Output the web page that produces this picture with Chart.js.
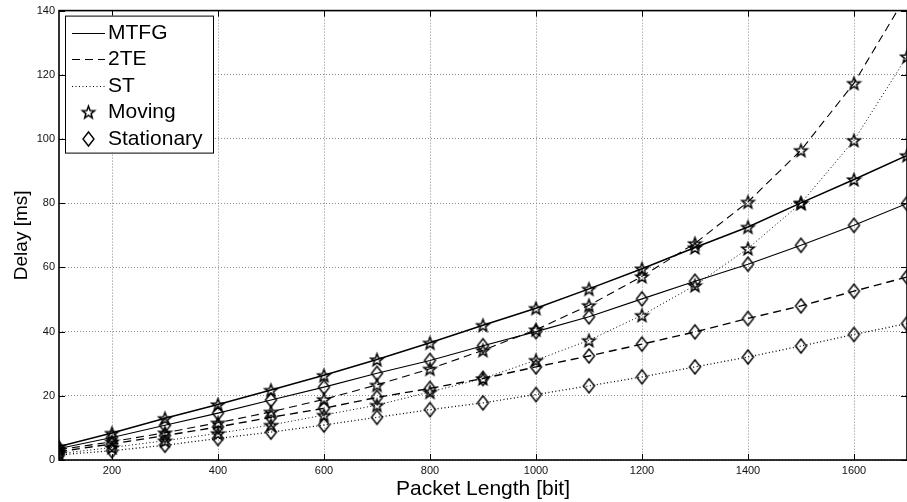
<!DOCTYPE html>
<html>
<head>
<meta charset="utf-8">
<script src="https://cdn.jsdelivr.net/npm/chart.js@4.4.0/dist/chart.umd.min.js"></script>
<style>
html, body { margin: 0; padding: 0; background: #fff; }
</style>
</head>
<body>
<canvas id="graficaRetardo" width="907" height="502"></canvas>
<script>
// longitud de paquete [bit]
const longitudes = [100, 200, 300, 400, 500, 600, 700, 800, 900, 1000, 1100, 1200, 1300, 1400, 1500, 1600, 1700];

// retardo [ms] por esquema
const mtfgMovil = [4.2, 8.4, 13.0, 17.3, 21.8, 26.4, 31.3, 36.5, 42.0, 47.3, 53.3, 59.6, 66.2, 72.6, 80.1, 87.4, 94.9];
const mtfgFijo = [3.6, 7.0, 10.8, 14.6, 18.7, 22.7, 27.0, 31.0, 35.6, 40.0, 44.6, 50.2, 55.7, 61.0, 66.9, 73.1, 79.9];
const dosTeMovil = [3.2, 5.7, 8.5, 11.6, 15.0, 18.9, 23.4, 28.4, 34.2, 40.6, 48.2, 57.2, 67.5, 80.4, 96.5, 117.4, 145.0];
const dosTeFijo = [2.6, 5.0, 7.6, 10.3, 13.3, 16.1, 19.5, 22.3, 25.4, 29.0, 32.4, 36.1, 39.9, 44.1, 48.0, 52.6, 57.0];
const stMovil = [2.0, 3.9, 6.0, 8.3, 10.9, 14.0, 17.1, 21.2, 25.4, 31.1, 37.3, 45.1, 54.4, 65.9, 80.0, 99.6, 125.7];
const stFijo = [1.6, 2.9, 4.6, 6.7, 8.7, 10.9, 13.3, 15.7, 17.8, 20.4, 23.1, 25.9, 29.0, 32.1, 35.5, 39.1, 42.5];

const ticksX = [200, 400, 600, 800, 1000, 1200, 1400, 1600];
const ticksY = [0, 20, 40, 60, 80, 100, 120, 140];

const nombresLineas = ["MTFG", "2TE", "ST"];
const nombresMarcas = ["Moving", "Stationary"];

const LISO = [];
const GUIONES = [8, 5];
const PUNTOS = [1, 2.5];

// marcadores sin relleno
function estrella(r) {
const s = Math.ceil(r * 2) + 4;
const c = document.createElement("canvas");
c.width = s; c.height = s;
const g = c.getContext("2d");
g.translate(s / 2, s / 2 + 0.7);
g.beginPath();
for (let i = 0; i < 10; i++) {
const rad = i % 2 ? r * 0.42 : r;
const a = -Math.PI / 2 + i * Math.PI / 5;
g.lineTo(rad * Math.cos(a), rad * Math.sin(a));
}
g.closePath();
g.lineWidth = 1.5;
g.lineJoin = "miter";
g.strokeStyle = "#000";
g.stroke();
return c;
}

function rombo(w, h) {
const c = document.createElement("canvas");
c.width = w + 4; c.height = h + 4;
const g = c.getContext("2d");
const cx = c.width / 2, cy = c.height / 2;
g.beginPath();
g.moveTo(cx, cy - h / 2);
g.lineTo(cx + w / 2, cy);
g.lineTo(cx, cy + h / 2);
g.lineTo(cx - w / 2, cy);
g.closePath();
g.lineWidth = 1.4;
g.strokeStyle = "#000";
g.stroke();
return c;
}

const marcaEstrella = estrella(6.5);
const marcaRombo = rombo(11, 14);

function serie(etiqueta, datos, trazo, marca, grosor) {
return {
label: etiqueta,
data: longitudes.map((x, i) => ({ x: x, y: datos[i] })),
borderColor: "#000",
backgroundColor: "transparent",
borderWidth: grosor,
borderDash: trazo,
pointStyle: marca,
pointRadius: 6,
pointHoverRadius: 6,
tension: 0,
fill: false
};
}

// marco, marcas de eje hacia dentro y leyenda
const ejesMatlab = {
id: "ejesMatlab",
afterDatasetsDraw(chart) {
const { ctx, chartArea: a, scales: { x, y } } = chart;
ctx.save();
ctx.strokeStyle = "#000";
ctx.lineWidth = 1;
ctx.setLineDash([]);
ctx.beginPath();
x.ticks.forEach(t => {
const px = Math.round(x.getPixelForValue(t.value)) + 0.5;
ctx.moveTo(px, a.bottom); ctx.lineTo(px, a.bottom - 6);
ctx.moveTo(px, a.top); ctx.lineTo(px, a.top + 6);
});
y.ticks.forEach(t => {
const py = Math.round(y.getPixelForValue(t.value)) + 0.5;
ctx.moveTo(a.left, py); ctx.lineTo(a.left + 6, py);
ctx.moveTo(a.right, py); ctx.lineTo(a.right - 6, py);
});
ctx.stroke();
ctx.lineWidth = 1.6;
ctx.strokeRect(a.left, a.top, a.right - a.left, a.bottom - a.top);

// leyenda
const lx = a.left + 6, ly = a.top + 5, lw = 148, lh = 137;
ctx.fillStyle = "#fff";
ctx.fillRect(lx, ly, lw, lh);
ctx.lineWidth = 1;
ctx.strokeRect(lx + 0.5, ly + 0.5, lw, lh);
ctx.font = "21px 'Liberation Sans', Arial, sans-serif";
ctx.fillStyle = "#000";
ctx.textBaseline = "middle";
const trazos = [LISO, GUIONES, PUNTOS];
nombresLineas.forEach((n, i) => {
const yy = Math.round(ly + 17 + i * 26.5) + 0.5;
ctx.setLineDash(trazos[i]);
ctx.beginPath();
ctx.moveTo(lx + 7, yy); ctx.lineTo(lx + 40, yy);
ctx.stroke();
ctx.setLineDash([]);
ctx.fillText(n, lx + 43, yy);
});
[marcaEstrella, marcaRombo].forEach((m, i) => {
const yy = Math.round(ly + 17 + (i + 3) * 26.5);
ctx.drawImage(m, lx + 23.5 - m.width / 2, yy - m.height / 2);
ctx.fillText(nombresMarcas[i], lx + 43, yy);
});
ctx.restore();
}
};

Chart.defaults.font.family = "'Liberation Sans', Arial, sans-serif";
Chart.defaults.color = "#000";

new Chart(document.getElementById("graficaRetardo"), {
type: "line",
data: {
datasets: [
serie("MTFG Moving", mtfgMovil, LISO, marcaEstrella, 1.5),
serie("MTFG Stationary", mtfgFijo, LISO, marcaRombo, 1.1),
serie("2TE Moving", dosTeMovil, GUIONES, marcaEstrella, 1.1),
serie("2TE Stationary", dosTeFijo, GUIONES, marcaRombo, 1.4),
serie("ST Moving", stMovil, PUNTOS, marcaEstrella, 1),
serie("ST Stationary", stFijo, PUNTOS, marcaRombo, 1.3)
]
},
options: {
responsive: false,
animation: false,
devicePixelRatio: 1,
layout: { autoPadding: false, padding: { top: 10, right: 0, left: 0, bottom: 0 } },
plugins: {
legend: { display: false },
tooltip: { enabled: false }
},
scales: {
x: {
type: "linear",
min: 100,
max: 1700,
afterBuildTicks: s => { s.ticks = ticksX.map(v => ({ value: v })); },
afterFit: s => { s.height = 42; s.paddingLeft = 0; s.paddingRight = 0; },
grid: { color: "#888", lineWidth: 1, drawTicks: false },
border: { display: false, dash: [1, 2] },
ticks: { font: { size: 11 }, padding: 4, color: "#111", callback: v => String(v) },
title: { display: true, text: "Packet Length [bit]", font: { size: 21 }, padding: { top: 0, bottom: 0 } }
},
y: {
min: 0,
max: 140,
afterBuildTicks: s => { s.ticks = ticksY.map(v => ({ value: v })); },
afterFit: s => { s.width = 59; },
grid: { color: "#888", lineWidth: 1, drawTicks: false },
border: { display: false, dash: [1, 2] },
ticks: { font: { size: 11 }, padding: 4, color: "#111", callback: v => String(v) },
title: { display: true, text: "Delay [ms]", font: { size: 19 }, padding: { top: 10, bottom: 0 } }
}
}
},
plugins: [ejesMatlab]
});
</script>
</body>
</html>
